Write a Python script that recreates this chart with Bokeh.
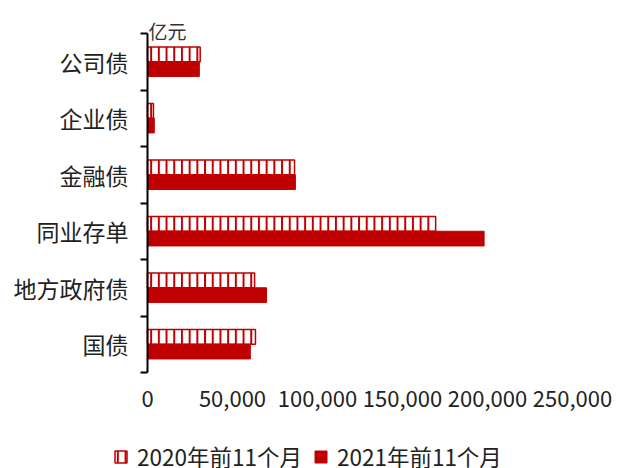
from bokeh.plotting import figure
from bokeh.models import FixedTicker, Legend, LegendItem, Label, ColumnDataSource, NumeralTickFormatter
from bokeh.embed import file_html
from bokeh.resources import INLINE

categories = ["国债", "地方政府债", "同业存单", "金融债", "企业债", "公司债"]
v2020 = [63500, 63000, 169500, 86500, 3500, 31000]
v2021 = [60500, 70000, 198000, 87000, 4000, 30500]
series_names = ["2020年前11个月", "2021年前11个月"]
x_ticks = [0, 50000, 100000, 150000, 200000, 250000]
unit = "亿元"

RED = "#C00000"
FONT = "Noto Sans CJK SC"

W, H = 618, 468
# target plot-area pixel box inside the canvas
LEFT, RIGHT, TOP, BOTTOM = 147, 572, 33, 372
XMAX = 250000
NCAT = len(categories)
xs = (RIGHT - LEFT) / XMAX
ys = (BOTTOM - TOP) / NCAT
x_range = (-LEFT / xs, (W - LEFT) / xs)
y_range = (-(H - BOTTOM) / ys, NCAT + TOP / ys)

pos = [i + 0.5 for i in range(NCAT)]
src = ColumnDataSource(dict(
    cat=categories,
    y20=[p + 0.13 for p in pos],
    y21=[p - 0.13 for p in pos],
    v2020=v2020,
    v2021=v2021,
))

p = figure(width=W, height=H, output_backend="svg", toolbar_location=None,
           x_range=x_range, y_range=y_range, min_border=0)
p.outline_line_color = None
p.grid.visible = False
p.background_fill_color = "white"
p.border_fill_color = "white"

r20 = p.hbar(y="y20", right="v2020", left=0, height=0.26, source=src,
             fill_color="white", line_color=RED, line_width=1.5,
             hatch_pattern="vertical_line", hatch_color=RED, hatch_scale=7.7, hatch_weight=2)
r21 = p.hbar(y="y21", right="v2021", left=0, height=0.26, source=src,
             fill_color=RED, line_color=RED)

# y axis
ya = p.yaxis[0]
ya.fixed_location = 0
ya.bounds = (0, NCAT)
ya.ticker = FixedTicker(ticks=pos, minor_ticks=list(range(NCAT + 1)))
ya.major_label_overrides = {pos[i]: categories[i] for i in range(NCAT)}
ya.major_tick_out = 0
ya.major_tick_in = 0
ya.minor_tick_out = 7
ya.minor_tick_in = 0
ya.minor_tick_line_color = "black"
ya.minor_tick_line_width = 2
ya.axis_line_color = "black"
ya.axis_line_width = 2
ya.major_label_text_font = FONT
ya.major_label_text_font_size = "23px"
ya.major_label_text_color = "#222222"
ya.major_label_standoff = 12

# x axis
xa = p.xaxis[0]
xa.fixed_location = 0
xa.ticker = FixedTicker(ticks=x_ticks)
xa.formatter = NumeralTickFormatter(format="0,0")
xa.axis_line_color = None
xa.major_tick_line_color = None
xa.minor_tick_line_color = None
xa.major_label_text_font = FONT
xa.major_label_text_font_size = "22px"
xa.major_label_text_color = "#222222"
xa.major_label_standoff = 12

p.add_layout(Label(x=0, y=NCAT, text=unit, x_offset=1, y_offset=3,
                   text_font=FONT, text_font_size="19px", text_color="#333333",
                   text_baseline="alphabetic"))

legend = Legend(items=[LegendItem(label=series_names[0], renderers=[r20]),
                       LegendItem(label=series_names[1], renderers=[r21])],
                orientation="horizontal", location=(113, -4),
                label_text_font=FONT, label_text_font_size="22.5px",
                label_text_color="#222222",
                glyph_width=15, glyph_height=15, spacing=11, label_standoff=9,
                border_line_color=None, background_fill_alpha=0, padding=0, margin=0)
p.add_layout(legend, "center")

open("out.html", "w").write(file_html(p, INLINE))
